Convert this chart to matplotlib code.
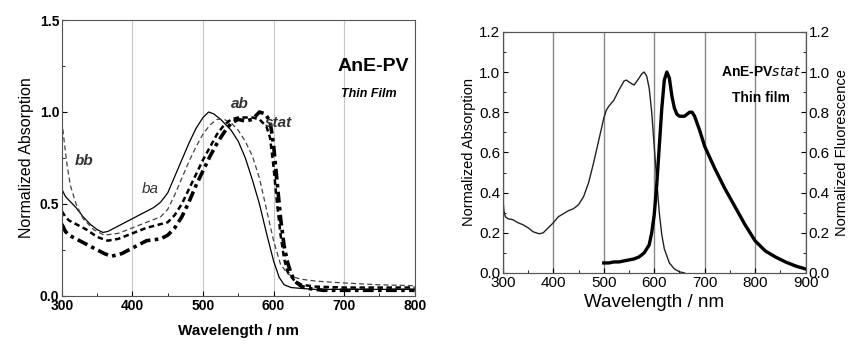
import matplotlib.pyplot as plt
from matplotlib.ticker import MultipleLocator

plt.rcParams['font.family'] = ['Liberation Sans', 'DejaVu Sans']

# left panel: thin film absorption of the four AnE-PV variants
wl_ba = [300, 305, 310, 320, 330, 340, 350, 358, 365, 380, 400, 415, 430, 440, 450, 460, 470, 480, 490, 500, 508,
         515, 525, 540, 550, 560, 570, 580, 590, 600, 608, 615, 625, 640, 660, 700, 750, 800]
ba = [0.58, 0.54, 0.52, 0.48, 0.43, 0.39, 0.36, 0.345, 0.35, 0.38, 0.42, 0.45, 0.48, 0.51, 0.56, 0.65, 0.74, 0.83, 0.91,
      0.97, 1.0, 0.99, 0.96, 0.9, 0.84, 0.75, 0.63, 0.5, 0.34, 0.19, 0.1, 0.06, 0.045, 0.04, 0.035, 0.035, 0.035, 0.035]

wl_bb = [300, 303, 307, 312, 320, 330, 345, 360, 380, 400, 420, 440, 450, 460, 470, 480, 490, 500, 510, 520, 530, 540,
         550, 560, 570, 580, 590, 600, 610, 620, 630, 640, 660, 700, 750, 800]
bb = [0.95, 0.85, 0.72, 0.6, 0.5, 0.42, 0.36, 0.33, 0.34, 0.37, 0.4, 0.43, 0.47, 0.55, 0.64, 0.73, 0.81, 0.88, 0.93, 0.96,
      0.96, 0.94, 0.9, 0.84, 0.76, 0.64, 0.47, 0.3, 0.17, 0.12, 0.1, 0.09, 0.08, 0.07, 0.06, 0.055]

wl_ab = [300, 305, 310, 320, 335, 350, 365, 380, 400, 420, 440, 450, 460, 470, 480, 490, 500, 510, 520, 530, 540, 550,
         560, 570, 580, 590, 595, 600, 605, 610, 615, 620, 630, 640, 660, 700, 750, 800]
ab = [0.46, 0.43, 0.41, 0.39, 0.36, 0.32, 0.3, 0.31, 0.34, 0.37, 0.39, 0.4, 0.44, 0.5, 0.58, 0.66, 0.74, 0.81, 0.88,
      0.93, 0.96, 0.97, 0.97, 0.97, 0.96, 0.92, 0.86, 0.7, 0.5, 0.33, 0.2, 0.13, 0.08, 0.06, 0.05, 0.045, 0.045, 0.045]

wl_stat = [300, 305, 310, 320, 335, 350, 360, 370, 385, 400, 420, 440, 450, 460, 470, 480, 490, 500, 510, 520, 530,
           540, 550, 560, 570, 580, 588, 595, 600, 605, 610, 615, 620, 625, 630, 640, 650, 670, 700, 750, 800]
stat = [0.39, 0.35, 0.33, 0.31, 0.28, 0.25, 0.23, 0.215, 0.23, 0.26, 0.3, 0.31, 0.33, 0.37, 0.43, 0.51, 0.6, 0.68,
        0.76, 0.83, 0.89, 0.94, 0.96, 0.95, 0.96, 1.0, 0.99, 0.95, 0.82, 0.62, 0.42, 0.27, 0.18, 0.12, 0.08, 0.05, 0.04,
        0.03, 0.03, 0.03, 0.03]

# right panel: AnE-PVstat thin film absorption and fluorescence
wl_abs = [300, 302, 305, 310, 320, 330, 340, 350, 360, 372, 380, 390, 400, 410, 420, 430, 440, 450, 460, 470, 480,
          490, 500, 505, 510, 520, 530, 540, 545, 550, 560, 570, 575, 580, 585, 590, 595, 600, 605, 610, 615, 620, 630,
          640, 650, 660]
absorb = [0.37, 0.31, 0.28, 0.27, 0.265, 0.25, 0.24, 0.225, 0.205, 0.195, 0.2, 0.225, 0.25, 0.28, 0.295, 0.31, 0.32,
          0.34, 0.38, 0.45, 0.55, 0.66, 0.77, 0.81, 0.83, 0.86, 0.91, 0.955, 0.96, 0.95, 0.935, 0.97, 0.99, 1.0, 0.98,
          0.92, 0.8, 0.63, 0.46, 0.3, 0.19, 0.12, 0.05, 0.02, 0.006, 0.0]

wl_fl = [500, 510, 520, 530, 540, 550, 560, 570, 580, 590, 595, 600, 605, 610, 615, 620, 625, 630, 635, 640, 645, 650,
         655, 660, 665, 670, 675, 680, 690, 700, 720, 740, 760, 780, 800, 820, 840, 860, 880, 900]
fluor = [0.05, 0.05, 0.055, 0.055, 0.06, 0.065, 0.07, 0.08, 0.1, 0.14, 0.2, 0.29, 0.44, 0.63, 0.82, 0.96, 1.0, 0.97,
         0.88, 0.82, 0.79, 0.78, 0.78, 0.78, 0.79, 0.8, 0.8, 0.78, 0.71, 0.63, 0.52, 0.42, 0.33, 0.24, 0.16, 0.11,
         0.08, 0.055, 0.035, 0.02]

fig = plt.figure(figsize=(8.48, 3.46), dpi=100)

# ---- left
ax1 = fig.add_axes([0.073, 0.145, 0.416, 0.797])
ax1.plot(wl_ba, ba, color='black', lw=0.9, ls='-')
ax1.plot(wl_bb, bb, color='#444444', lw=0.9, ls=(0, (4, 2.5)))
ax1.plot(wl_ab, ab, color='black', lw=1.8, ls=(0, (2.2, 1.4)))
ax1.plot(wl_stat, stat, color='black', lw=2.6, ls=(0, (3, 1.2, 1, 1.2)))
ax1.set_xlim(300, 800)
ax1.set_ylim(0, 1.5)
ax1.xaxis.set_major_locator(MultipleLocator(100))
ax1.xaxis.set_minor_locator(MultipleLocator(50))
ax1.yaxis.set_major_locator(MultipleLocator(0.5))
ax1.yaxis.set_minor_locator(MultipleLocator(0.25))
ax1.yaxis.set_major_formatter(lambda v, p: f'{v:.1f}')
ax1.grid(axis='x', color='#c8c8c8', lw=0.8)
ax1.tick_params(which='both', direction='in', labelsize=10, pad=2)
for lab in ax1.get_xticklabels() + ax1.get_yticklabels():
    lab.set_fontweight('bold')
for s in ax1.spines.values():
    s.set_color('#555555')
ax1.set_xlabel('Wavelength / nm', fontsize=11, fontweight='bold', labelpad=8)
ax1.set_ylabel('Normalized Absorption', fontsize=11.5, labelpad=4)
ax1.text(742, 1.25, 'AnE-PV', fontsize=14, fontweight='bold', ha='center', va='center')
ax1.text(735, 1.1, 'Thin Film', fontsize=9, fontweight='bold', style='italic', ha='center', va='center')
ax1.text(318, 0.71, 'bb', fontsize=11, style='italic', fontweight='bold', color='#333333')
ax1.text(413, 0.56, 'ba', fontsize=11, style='italic', color='#333333')
ax1.text(540, 1.02, 'ab', fontsize=11, style='italic', fontweight='bold', color='#333333')
ax1.text(588, 0.92, 'stat', fontsize=11, style='italic', fontweight='bold', color='#333333')

# ---- right
ax2 = fig.add_axes([0.593, 0.211, 0.357, 0.697])
ax2.plot(wl_abs, absorb, color='#222222', lw=1.0)
ax2.set_xlim(300, 900)
ax2.set_ylim(0, 1.2)
ax2.xaxis.set_major_locator(MultipleLocator(100))
ax2.xaxis.set_minor_locator(MultipleLocator(50))
ax2.yaxis.set_major_locator(MultipleLocator(0.2))
ax2.yaxis.set_minor_locator(MultipleLocator(0.1))
ax2.yaxis.set_major_formatter(lambda v, p: f'{v:.1f}')
ax2.grid(axis='x', color='#888888', lw=1.0)
ax2.tick_params(which='both', direction='in', labelsize=11, pad=2)
ax2.set_xlabel('Wavelength / nm', fontsize=13.5, labelpad=3)
ax2.set_ylabel('Normalized Absorption', fontsize=10.5, labelpad=2)
ax2.text(812, 1.0, 'AnE-PV$\\bf{\\it{stat}}$', fontsize=10, fontweight='bold', ha='center', va='center')
ax2.text(812, 0.87, 'Thin film', fontsize=10, fontweight='bold', ha='center', va='center')

ax3 = ax2.twinx()
ax3.plot(wl_fl, fluor, color='black', lw=2.4)
ax3.set_ylim(0, 1.2)
ax3.yaxis.set_major_locator(MultipleLocator(0.2))
ax3.yaxis.set_minor_locator(MultipleLocator(0.1))
ax3.yaxis.set_major_formatter(lambda v, p: f'{v:.1f}')
ax3.tick_params(which='both', direction='in', labelsize=11, pad=2)
ax3.set_ylabel('Normalized Fluorescence', fontsize=10.5, labelpad=4)
for s in list(ax2.spines.values()) + list(ax3.spines.values()):
    s.set_color('#555555')

fig.savefig('out.png', dpi=100)
